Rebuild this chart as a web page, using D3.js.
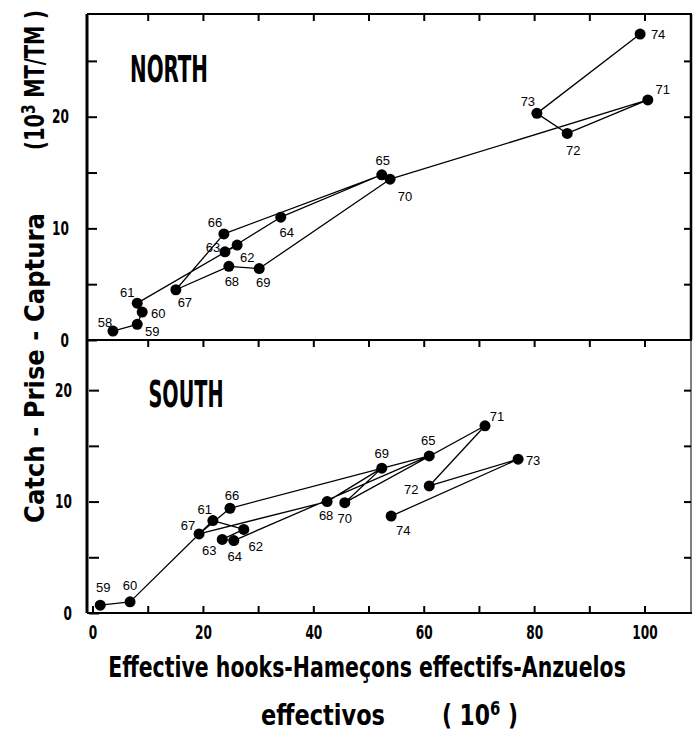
<!DOCTYPE html>
<html>
<head>
<meta charset="utf-8">
<script src="https://cdn.jsdelivr.net/npm/d3@7"></script>
<style>
  body { margin: 0; background: #fff; }
  svg { display: block; }
</style>
</head>
<body>
<svg id="chart" width="694" height="734"></svg>
<script>
// ---- Data: effective hooks (10^6) vs catch (10^3 MT) by year ----
const northYears = [58, 59, 60, 61, 62, 63, 64, 65, 66, 67, 68, 69, 70, 71, 72, 73, 74];
const northHooks = [3.7, 8.1, 9.0, 8.1, 26.2, 24.0, 34.1, 52.4, 23.8, 15.1, 24.7, 30.2, 53.9, 100.6, 86.0, 80.5, 99.2];
const northCatch = [0.8, 1.4, 2.5, 3.3, 8.5, 7.9, 11.0, 14.8, 9.5, 4.5, 6.6, 6.4, 14.4, 21.5, 18.5, 20.3, 27.4];

const southYears = [59, 60, 61, 62, 63, 64, 65, 66, 67, 68, 69, 70, 71, 72, 73, 74];
const southHooks = [1.4, 6.8, 21.8, 27.4, 23.5, 25.6, 61.0, 24.9, 19.3, 42.5, 52.4, 45.7, 71.1, 61.0, 77.1, 54.1];
const southCatch = [0.7, 1.0, 8.3, 7.5, 6.6, 6.5, 14.1, 9.4, 7.1, 10.0, 13.0, 9.9, 16.8, 11.4, 13.8, 8.7];

const xTickLabels = [0, 20, 40, 60, 80, 100];
const yTickLabels = [0, 10, 20];

// ---- Year label placement (offset from marker centre, px) ----
const northLabelOffset = {
  58: [-8, -9], 59: [15, 7], 60: [16, 1], 61: [-10, -11], 62: [10, 12], 63: [-12, -4],
  64: [6, 15], 65: [1, -14], 66: [-9, -11], 67: [9, 13], 68: [3, 15], 69: [4, 14],
  70: [15, 17], 71: [15, -10], 72: [6, 17], 73: [-9, -12], 74: [18, 0]
};
const southLabelOffset = {
  59: [3, -18], 60: [0, -16], 61: [-8, -11], 62: [12, 17], 63: [-13, 11], 64: [1, 16],
  65: [-1, -15], 66: [2, -13], 67: [-11, -8], 68: [-1, 14], 69: [0, -15], 70: [0, 16],
  71: [12, -9], 72: [-18, 4], 73: [15, 1], 74: [12, 14]
};

const heavy = "'DejaVu Sans Condensed', 'Liberation Sans Narrow', 'DejaVu Sans', sans-serif";
const light = "'Liberation Sans', 'DejaVu Sans', sans-serif";

const svg = d3.select("#chart");

// ---- Scales ----
const plotLeft = 87, plotRight = 692, plotTop = 14, plotMid = 340, plotBottom = 613;
const x = d3.scaleLinear().domain([-1, 108.6]).range([plotLeft, plotRight]);
const yNorth = d3.scaleLinear().domain([0, 29.2]).range([plotMid, plotTop]);
const ySouth = d3.scaleLinear().domain([0, 24.5]).range([plotBottom, plotMid]);

const xTicks = d3.range(0, 110, 10);
const yTicks = d3.range(0, 30, 5);

// ---- Frame lines ----
const frame = svg.append("g").attr("stroke", "#000").attr("fill", "none");
frame.append("line").attr("x1", plotLeft).attr("x2", plotLeft).attr("y1", plotTop).attr("y2", plotBottom).attr("stroke-width", 3);
frame.append("line").attr("x1", plotLeft).attr("x2", plotRight).attr("y1", plotTop).attr("y2", plotTop).attr("stroke-width", 2);
frame.append("line").attr("x1", plotLeft).attr("x2", plotRight).attr("y1", plotMid).attr("y2", plotMid).attr("stroke-width", 2);
frame.append("line").attr("x1", plotLeft).attr("x2", plotRight).attr("y1", plotBottom).attr("y2", plotBottom).attr("stroke-width", 2);
frame.append("line").attr("x1", plotRight - 1).attr("x2", plotRight - 1).attr("y1", plotTop).attr("y2", plotMid).attr("stroke-width", 2.5);
frame.append("line").attr("x1", plotRight - 1).attr("x2", plotRight - 1).attr("y1", plotMid).attr("y2", plotBottom).attr("stroke-width", 1);

// ---- Axes (ticks point inward) ----
function styleAxis(g) {
  g.select(".domain").remove();
  g.selectAll(".tick line").attr("stroke", "#000").attr("stroke-width", 2);
  g.selectAll(".tick text")
    .attr("fill", "#000")
    .attr("font-family", heavy)
    .attr("font-weight", "bold")
    .attr("font-size", 18);
}

const yFmt = d => (yTickLabels.includes(d) ? d : "");
const xFmt = d => (xTickLabels.includes(d) ? d : "");

// left axes
svg.append("g").attr("transform", `translate(${plotLeft},0)`)
  .call(d3.axisLeft(yNorth).tickValues(yTicks.filter(d => d <= 29)).tickSize(-10).tickPadding(18).tickFormat(yFmt))
  .call(styleAxis);
svg.append("g").attr("transform", `translate(${plotLeft + 2},0)`)
  .call(d3.axisLeft(ySouth).tickValues(yTicks.filter(d => d <= 24)).tickSize(-10).tickPadding(17).tickFormat(yFmt))
  .call(styleAxis);

// right axes
svg.append("g").attr("transform", `translate(${plotRight - 1},0)`)
  .call(d3.axisRight(yNorth).tickValues(yTicks.filter(d => d > 0 && d <= 29)).tickSize(-7).tickFormat(""))
  .call(styleAxis);
svg.append("g").attr("transform", `translate(${plotRight - 1},0)`)
  .call(d3.axisRight(ySouth).tickValues(yTicks.filter(d => d > 0 && d <= 24)).tickSize(-7).tickFormat(""))
  .call(styleAxis);

// top border and divider ticks
svg.append("g").attr("transform", `translate(0,${plotTop})`)
  .call(d3.axisTop(x).tickValues(xTicks.filter(d => d > 0)).tickSize(-7).tickFormat(""))
  .call(styleAxis);
svg.append("g").attr("transform", `translate(0,${plotMid})`)
  .call(d3.axisTop(x).tickValues(xTicks.filter(d => d > 0)).tickSize(-7).tickFormat(""))
  .call(styleAxis);

// bottom axis
svg.append("g").attr("transform", `translate(0,${plotBottom})`)
  .call(d3.axisBottom(x).tickValues(xTicks).tickSize(-7).tickPadding(13).tickFormat(xFmt))
  .call(styleAxis);

// condense the heavy tick labels
svg.selectAll(".tick text").each(function () {
  const t = d3.select(this);
  const tx = +t.attr("x") || 0, ty = +t.attr("y") || 0;
  t.attr("transform", `translate(${tx},${ty}) scale(0.75,1.05) translate(${-tx},${-ty})`);
});

// ---- Series: connected year-to-year paths ----
function drawSeries(years, hooks, catches, y, offsets) {
  const pts = years.map((yr, i) => ({ yr, hx: hooks[i], cy: catches[i] }));
  const g = svg.append("g");
  g.append("path")
    .datum(pts)
    .attr("fill", "none")
    .attr("stroke", "#000")
    .attr("stroke-width", 1.3)
    .attr("stroke-linejoin", "round")
    .attr("d", d3.line().x(d => x(d.hx)).y(d => y(d.cy)));
  g.selectAll("circle")
    .data(pts)
    .join("circle")
    .attr("cx", d => x(d.hx))
    .attr("cy", d => y(d.cy))
    .attr("r", 5.5)
    .attr("fill", "#000");
  g.selectAll("text")
    .data(pts)
    .join("text")
    .attr("x", d => x(d.hx) + offsets[d.yr][0])
    .attr("y", d => y(d.cy) + offsets[d.yr][1])
    .attr("text-anchor", "middle")
    .attr("dominant-baseline", "central")
    .attr("font-family", light)
    .attr("font-size", 13)
    .attr("fill", "#000")
    .text(d => d.yr);
}

drawSeries(northYears, northHooks, northCatch, yNorth, northLabelOffset);
drawSeries(southYears, southHooks, southCatch, ySouth, southLabelOffset);

// ---- Heavy condensed titles fitted to a given width ----
function fitted(parent, cx, cy, width, size, rotate, build) {
  const g = parent.append("g");
  const t = g.append("text")
    .attr("text-anchor", "middle")
    .attr("font-family", heavy)
    .attr("font-weight", "bold")
    .attr("font-size", size)
    .attr("fill", "#000");
  build(t);
  const w = t.node().getBBox().width;
  const s = width / w;
  g.attr("transform", `translate(${cx},${cy}) rotate(${rotate}) scale(${s},1)`);
  return g;
}

fitted(svg, 169, 82, 78, 38, 0, t => t.text("NORTH"));
fitted(svg, 186, 407, 75, 38, 0, t => t.text("SOUTH"));

// vertical axis title, drawn in two runs
fitted(svg, 44, 368, 310, 27, -90, t => t.text("Catch  -  Prise  -  Captura"));
fitted(svg, 44, 80, 140, 27, -90, t => {
  t.append("tspan").text("(10");
  t.append("tspan").attr("dy", -9).attr("font-size", 19).text("3");
  t.append("tspan").attr("dy", 9).text(" MT/TM )");
});

fitted(svg, 367, 677, 518, 29, 0, t => t.text("Effective hooks-Hameçons effectifs-Anzuelos"));
fitted(svg, 323, 725, 124, 28, 0, t => t.text("effectivos"));
fitted(svg, 480, 725, 76, 28, 0, t => {
  t.append("tspan").text("( 10");
  t.append("tspan").attr("dy", -10).attr("font-size", 19).text("6");
  t.append("tspan").attr("dy", 10).text(" )");
});
</script>
</body>
</html>
